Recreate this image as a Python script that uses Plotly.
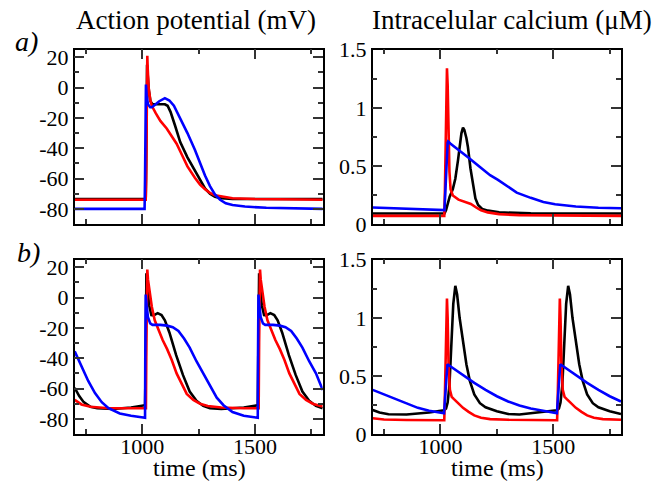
import plotly.graph_objects as go
from plotly.subplots import make_subplots

# ---- a) action potential (mV) ----
a_ap_black_t = [700, 1015, 1017, 1019, 1021, 1024, 1029, 1036, 1045, 1070, 1100, 1112, 1125, 1145, 1168,
                1200, 1233, 1256, 1278, 1300, 1322, 1350, 1400, 1800]
a_ap_black_v = [-73.5, -73.5, -50, 0, 15, 8, -2, -9, -11, -11, -11, -12, -16, -25, -36,
                -46, -55, -61, -66.5, -70, -72, -73, -73.5, -73.5]
a_ap_red_t = [700, 1015, 1017, 1019, 1021, 1022, 1024, 1028, 1035, 1042, 1060, 1080, 1108, 1130, 1152,
              1168, 1200, 1233, 1256, 1278, 1300, 1322, 1360, 1400, 1500, 1800]
a_ap_red_v = [-74, -74, -60, -10, 18, 21, 12, 0, -8, -12, -17, -22, -27, -32, -37,
              -42, -52, -59.5, -64, -67, -69.5, -71, -72, -73, -73.5, -74]
a_ap_blue_t = [700, 1010, 1012, 1014, 1016, 1019, 1025, 1035, 1042, 1055, 1075, 1100, 1120, 1140, 1167,
               1200, 1233, 1256, 1278, 1300, 1322, 1345, 1370, 1400, 1455, 1550, 1650, 1800]
a_ap_blue_v = [-80, -80, -60, -20, 2, -5, -11, -13, -13, -11.5, -9, -7, -8.5, -12, -20,
               -30, -41, -50, -58, -65, -70.5, -74, -76.3, -77.5, -78.5, -79.3, -79.7, -80]

# ---- a) intracellular calcium (uM) ----
a_ca_black_t = [700, 1018, 1025, 1032, 1041, 1055, 1066, 1078, 1085, 1093, 1100, 1106, 1115, 1122, 1133,
                1144, 1155, 1167, 1185, 1211, 1260, 1400, 1800]
a_ca_black_v = [0.09, 0.09, 0.12, 0.18, 0.235, 0.3, 0.39, 0.55, 0.66, 0.78, 0.83, 0.81, 0.74, 0.66, 0.48,
                0.336, 0.22, 0.163, 0.13, 0.115, 0.1, 0.092, 0.09]
a_ca_red_t = [700, 1017, 1020, 1023, 1026, 1029, 1032, 1036, 1040, 1045, 1055, 1080, 1110, 1135, 1160,
              1180, 1210, 1260, 1350, 1500, 1800]
a_ca_red_v = [0.07, 0.07, 0.3, 0.8, 1.2, 1.34, 1.2, 0.75, 0.45, 0.3, 0.245, 0.21, 0.19, 0.172, 0.14,
              0.118, 0.1, 0.085, 0.076, 0.072, 0.07]
a_ca_blue_t = [700, 800, 900, 1000, 1018, 1032, 1034, 1045, 1080, 1122, 1175, 1220, 1255, 1300, 1338,
               1400, 1456, 1508, 1600, 1700, 1800]
a_ca_blue_v = [0.142, 0.135, 0.128, 0.122, 0.12, 0.7, 0.71, 0.69, 0.64, 0.575, 0.49, 0.42, 0.38, 0.32, 0.27,
               0.225, 0.19, 0.17, 0.15, 0.14, 0.135]

# ---- b) action potential (mV) ----
b_ap_black_t = [700, 720, 740, 770, 800, 870, 950, 1012, 1015, 1018, 1022, 1030, 1040, 1050, 1068, 1085,
                1100, 1120, 1150, 1180, 1210, 1240, 1270, 1300, 1350, 1400, 1450, 1512, 1515, 1518,
                1522, 1530, 1540, 1550, 1568, 1585, 1600, 1620, 1650, 1680, 1710, 1740, 1770, 1800]
b_ap_black_v = [-59.5, -65, -69, -72, -73, -73.5, -72.5, -71, -40, 16, 8, -5, -11.5, -11.8, -10.3, -11.5,
                -15, -23, -38, -51, -62, -68, -71.5, -73, -73.5, -73, -72.5, -71, -40, 16,
                8, -5, -11.5, -11.8, -10.3, -11.5, -15, -23, -38, -51, -62, -68, -71.5, -73]
b_ap_red_t = [700, 730, 770, 850, 1000, 1016, 1018, 1020, 1022, 1025, 1032, 1042, 1055, 1070, 1090,
              1110, 1130, 1152, 1175, 1197, 1226, 1256, 1290, 1350, 1450, 1516, 1518, 1520, 1522,
              1525, 1532, 1542, 1555, 1570, 1590, 1610, 1630, 1652, 1675, 1697, 1726, 1756, 1790, 1800]
b_ap_red_v = [-67.5, -70.5, -72, -73, -73, -73, -30, 10, 18.5, 12, 3, -6, -15, -21, -28,
              -34, -41, -50, -57.5, -63.5, -67.5, -70, -71.5, -72.5, -73, -73, -30, 10, 18.5,
              12, 3, -6, -15, -21, -28, -34, -41, -50, -57.5, -63.5, -67.5, -70, -71.5, -71.8]
b_ap_blue_t = [700, 730, 760, 790, 820, 850, 900, 950, 1000, 1012, 1013, 1015, 1019, 1025, 1035, 1045,
               1080, 1110, 1135, 1160, 1185, 1210, 1240, 1270, 1300, 1330, 1360, 1400, 1450, 1512,
               1513, 1515, 1519, 1525, 1535, 1545, 1580, 1610, 1635, 1660, 1685, 1710, 1740, 1770, 1800]
b_ap_blue_v = [-35.5, -45, -55, -63, -69, -73, -76.5, -78, -79, -79.3, -40, 2, -5, -13, -17, -18,
               -18, -18.5, -19.5, -22, -27, -33, -42, -50, -59, -66, -71, -75.5, -78, -79.3,
               -40, 2, -5, -13, -17, -18, -18, -18.5, -19.5, -22, -27, -33, -42, -50, -61]

# ---- b) intracellular calcium (uM) ----
b_ca_black_t = [700, 730, 770, 850, 950, 1016, 1025, 1032, 1040, 1048, 1057, 1066, 1074, 1085, 1100,
                1115, 1130, 1150, 1175, 1200, 1250, 1300, 1350, 1450, 1516, 1525, 1532, 1540, 1548,
                1557, 1566, 1574, 1585, 1600, 1615, 1630, 1650, 1675, 1700, 1750, 1800]
b_ca_black_v = [0.207, 0.185, 0.17, 0.168, 0.185, 0.205, 0.22, 0.27, 0.42, 0.75, 1.12, 1.275, 1.2, 1.0, 0.81,
                0.6, 0.46, 0.34, 0.265, 0.23, 0.195, 0.172, 0.168, 0.188, 0.205, 0.22, 0.27, 0.42, 0.75,
                1.12, 1.275, 1.2, 1.0, 0.81, 0.6, 0.46, 0.34, 0.265, 0.23, 0.195, 0.172]
b_ca_red_t = [700, 750, 850, 1017, 1020, 1024, 1027, 1029, 1032, 1036, 1042, 1050, 1060, 1080, 1100,
              1125, 1150, 1180, 1220, 1300, 1400, 1517, 1520, 1524, 1527, 1529, 1532, 1536, 1542,
              1550, 1560, 1580, 1600, 1625, 1650, 1680, 1720, 1800]
b_ca_red_v = [0.135, 0.125, 0.12, 0.118, 0.35, 0.85, 1.12, 1.165, 1.0, 0.6, 0.38, 0.32, 0.3, 0.26, 0.225,
              0.19, 0.16, 0.14, 0.128, 0.122, 0.12, 0.118, 0.35, 0.85, 1.12, 1.165, 1.0, 0.6, 0.38,
              0.32, 0.3, 0.26, 0.225, 0.19, 0.16, 0.14, 0.128, 0.122]
b_ca_blue_t = [700, 750, 800, 850, 900, 950, 1000, 1016, 1031, 1060, 1100, 1150, 1200, 1250, 1300,
               1350, 1400, 1450, 1500, 1516, 1531, 1560, 1600, 1650, 1700, 1750, 1800]
b_ca_blue_v = [0.38, 0.34, 0.3, 0.265, 0.225, 0.2, 0.183, 0.178, 0.6, 0.56, 0.505, 0.44, 0.38, 0.325, 0.28,
               0.245, 0.22, 0.2, 0.182, 0.178, 0.6, 0.56, 0.505, 0.44, 0.38, 0.325, 0.28]

FONT = "Liberation Serif, Times New Roman, DejaVu Serif, serif"
LW = 2.6
W, H = 668, 484
OFF = 8  # the page body adds an 8 px margin around the plot div


def px_x(p):
    return (p - OFF) / W


def px_y(p):
    return 1 - (p - OFF) / H


fig = make_subplots(rows=2, cols=2)

panels = [
    (1, 1, [(a_ap_black_t, a_ap_black_v, "black"), (a_ap_red_t, a_ap_red_v, "red"), (a_ap_blue_t, a_ap_blue_v, "blue")]),
    (1, 2, [(a_ca_black_t, a_ca_black_v, "black"), (a_ca_red_t, a_ca_red_v, "red"), (a_ca_blue_t, a_ca_blue_v, "blue")]),
    (2, 1, [(b_ap_black_t, b_ap_black_v, "black"), (b_ap_red_t, b_ap_red_v, "red"), (b_ap_blue_t, b_ap_blue_v, "blue")]),
    (2, 2, [(b_ca_black_t, b_ca_black_v, "black"), (b_ca_red_t, b_ca_red_v, "red"), (b_ca_blue_t, b_ca_blue_v, "blue")]),
]
for r, c, curves in panels:
    for t, v, col in curves:
        fig.add_trace(go.Scatter(x=t, y=v, mode="lines", line=dict(color=col, width=LW),
                                 hoverinfo="skip"), row=r, col=c)

common = dict(showline=True, linecolor="black", linewidth=1.5, mirror="ticks",
              ticks="inside", ticklen=10, tickwidth=1.5, tickcolor="#333",
              showgrid=False, zeroline=False,
              tickfont=dict(family=FONT, size=22, color="black"))

xdom_l = [px_x(74.7), px_x(322.7)]
xdom_r = [px_x(372.7), px_x(621)]
ydom_top = [px_y(224), px_y(49.7)]
ydom_bot = [px_y(434), px_y(259.7)]

xcfg = dict(common, range=[700, 1800], dtick=500, tick0=0, ticklabelstandoff=-8,
            minor=dict(ticks="inside", ticklen=5, dtick=250, tickcolor="#333", tickwidth=1.5))
ap_vals = [-80, -60, -40, -20, 0, 20]
ap_text = ["-80", "-60", "-40", "-20", "0", "20"]
ycfg_ap = dict(common, range=[-90, 25], tickmode="array", tickvals=ap_vals, ticktext=ap_text,
               minor=dict(ticks="inside", ticklen=5, dtick=10, tick0=0, tickcolor="#333", tickwidth=1.5))
ycfg_ca = dict(common, range=[0, 1.5], tickmode="array", tickvals=[0, 0.5, 1, 1.5],
               ticktext=["0", "0.5", "1", "1.5"],
               minor=dict(ticks="inside", ticklen=5, dtick=0.25, tick0=0, tickcolor="#333", tickwidth=1.5))

fig.update_layout(
    xaxis=dict(xcfg, domain=xdom_l, showticklabels=False),
    xaxis2=dict(xcfg, domain=xdom_r, showticklabels=False),
    xaxis3=dict(xcfg, domain=xdom_l),
    xaxis4=dict(xcfg, domain=xdom_r),
    yaxis=dict(ycfg_ap, domain=ydom_top),
    yaxis2=dict(ycfg_ca, domain=ydom_top),
    yaxis3=dict(ycfg_ap, domain=ydom_bot),
    yaxis4=dict(ycfg_ca, domain=ydom_bot),
)

ann = [
    ("Action potential (mV)", 196, 20, 27, False),
    ("Intracelular calcium (\u03bcM)", 512, 20, 27, False),
    ("a)", 26.5, 42, 28, True),
    ("b)", 28.5, 252, 28, True),
    ("time (ms)", 199, 468, 24, False),
    ("time (ms)", 497, 468, 24, False),
]
for txt, x, y, sz, ital in ann:
    fig.add_annotation(text=txt, x=px_x(x), y=px_y(y), xref="paper", yref="paper", showarrow=False,
                       xanchor="center", yanchor="middle",
                       font=dict(family=FONT, size=sz, color="black",
                                 style="italic" if ital else "normal"))

fig.update_layout(width=W, height=H, margin=dict(l=0, r=0, t=0, b=0),
                  paper_bgcolor="white", plot_bgcolor="white", showlegend=False,
                  template="none", font=dict(family=FONT))

fig.write_html("out.html")
